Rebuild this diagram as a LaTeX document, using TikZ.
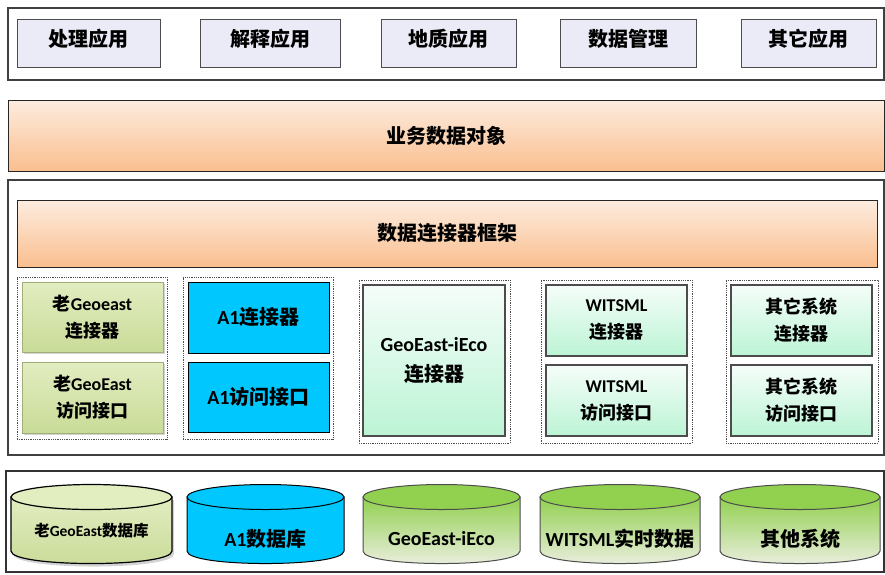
\documentclass[tikz,border=0pt]{standalone}
\usepackage{fontspec}
\setmainfont{Noto Sans CJK SC}
\newfontfamily\enfont{Carlito}[BoldFont={Carlito Bold}]
\newcommand*{\en}[1]{{\enfont\bfseries #1}}
\usetikzlibrary{positioning, shadows}
\definecolor{appfill}{HTML}{EBEBF7}
\definecolor{bandtop}{HTML}{FDECDF}
\definecolor{bandbot}{HTML}{FABF8F}
\definecolor{oldtop}{HTML}{E2EDC0}
\definecolor{oldbot}{HTML}{C9DB98}
\definecolor{acyan}{HTML}{00C8FF}
\definecolor{minttop}{HTML}{F5FDF9}
\definecolor{mintbot}{HTML}{BCF4D5}
\definecolor{greencap}{HTML}{92D050}
\definecolor{greenbot}{HTML}{EEEFE4}

\begin{document}
\begin{tikzpicture}[x=1pt, y=-1pt,
  layer/.style={draw=black!75, line width=1.3pt, inner sep=0pt, outer sep=0pt},
  band/.style={draw=black!85, line width=1pt, top color=bandtop, bottom color=bandbot, inner sep=0pt, outer sep=0pt, font=\fontsize{20}{20}\selectfont\bfseries},
  app/.style={draw=black!70, line width=1pt, fill=appfill, minimum width=#1, minimum height=48, inner sep=0pt, outer sep=0pt, text height=16pt, text depth=10pt, font=\fontsize{20}{20}\selectfont\bfseries},
  group/.style={draw=black!70, densely dotted, line width=.8pt, inner sep=0pt, outer sep=0pt},
  part/.style={minimum width=141, minimum height=#1, inner sep=0pt, outer sep=0pt, align=center, font=\fontsize{18}{27}\selectfont\bfseries},
  oldpart/.style={part=#1, draw=oldbot!80!black, line width=.6pt, top color=oldtop, bottom color=oldbot, drop shadow={opacity=.35, shadow xshift=1.5pt, shadow yshift=-2pt}},
  a1part/.style={part=#1, draw=black, line width=1pt, fill=acyan, font=\fontsize{20}{20}\selectfont\bfseries},
  mintpart/.style={part=#1, draw=black!70, line width=1.2pt, top color=minttop, bottom color=mintbot},
  dbtext/.style={inner sep=0pt, font=\fontsize{20}{20}\selectfont\bfseries},
  greenbody/.style={draw=black!70, line width=1pt, top color=greencap, bottom color=greenbot},
  greencapfill/.style={draw=black!70, line width=1pt, fill=greencap}]

\useasboundingbox (0,0) rectangle (885,574);

\newcommand*{\dbcyl}[6]{\path[#4] (#2,497) -- (#2,551) .. controls (#2,567.7) and (#3,567.7) .. (#3,551) -- (#3,497) -- cycle;
  \path[#5] ({(#2+#3)/2},497) ellipse[x radius={(#3-#2)/2}, y radius=12.5];
  \node[dbtext] (#1) at ({(#2+#3)/2},#6)}

% APPLICATIONS

\node[layer, minimum width=876, minimum height=72] (appframe) at (446,44) {};

\node[app=143] (proc)   at (88.5,43)  {处理应用};
\node[app=140] (interp) at (270,43)   {解释应用};
\node[app=135] (geo)    at (448.5,43) {地质应用};
\node[app=136] (dmgmt)  at (628,43)   {数据管理};
\node[app=135] (other)  at (808.5,43) {其它应用};

% BUSINESS OBJECTS

\node[band, minimum width=876, minimum height=71] (objband) at (446,135.5) {业务数据对象};

% CONNECTOR FRAMEWORK

\node[layer, minimum width=876, minimum height=275] (midframe) at (446,317.5) {};

\node[band, minimum width=860, minimum height=67] (fwband) at (447,233.5) {数据连接器框架};

\node[group, minimum width=150, minimum height=162] (oldgrp)  at (92,358)      {};
\node[group, minimum width=150, minimum height=162] (a1grp)   at (258,358)     {};
\node[group, minimum width=151, minimum height=163] (iecogrp) at (434.5,361.5) {};
\node[group, minimum width=151, minimum height=163] (witsgrp) at (616.5,361.5) {};
\node[group, minimum width=152, minimum height=163] (othgrp)  at (802,361.5)   {};

\node[oldpart=70] (oldconn) at (92.5,317) {老\en{Geoeast}\\连接器};
\node[oldpart=71, below=10pt of oldconn] (oldacc) {老\en{GeoEast}\\访问接口};

\node[a1part=71] (a1conn) at (258.5,317.5) {\en{A1}连接器};
\node[a1part=70, below=9pt of a1conn] (a1acc) {\en{A1}访问接口};

\node[mintpart=151, minimum width=142, font=\fontsize{20}{30}\selectfont\bfseries] (iecoconn) at (434,360.5) {\en{GeoEast-iEco}\\连接器};

\node[mintpart=71] (witsconn) at (616.5,320.5) {\en{WITSML}\\连接器};
\node[mintpart=71, below=9pt of witsconn] (witsacc) {\en{WITSML}\\访问接口};

\node[mintpart=71] (othconn) at (801.5,320.5) {其它系统\\连接器};
\node[mintpart=71, below=9pt of othconn] (othacc) {其它系统\\访问接口};

% DATA STORES

\node[layer, draw=black!80, minimum width=878, minimum height=101] (dbframe) at (445,521.5) {};

\dbcyl{olddb}{11}{172}{draw=black, line width=1.2pt, top color=oldtop, bottom color=oldbot, drop shadow={opacity=.35, shadow xshift=2pt, shadow yshift=-3pt}}{draw=black, line width=1.2pt, fill=oldtop}{531}
  [font=\fontsize{15.5}{15.5}\selectfont\bfseries] {老\en{GeoEast}数据库};
\dbcyl{a1db}{187}{344}{draw=black, line width=1pt, fill=acyan}{draw=black, line width=1pt, fill=acyan}{539} {\en{A1}数据库};
\dbcyl{iecodb}{363}{520}{greenbody}{greencapfill}{539} {\en{GeoEast-iEco}};
\dbcyl{witsdb}{540}{700}{greenbody}{greencapfill}{539} {\en{WITSML}实时数据};
\dbcyl{othdb}{720}{880}{greenbody}{greencapfill}{539} {其他系统};

\end{tikzpicture}
\end{document}
